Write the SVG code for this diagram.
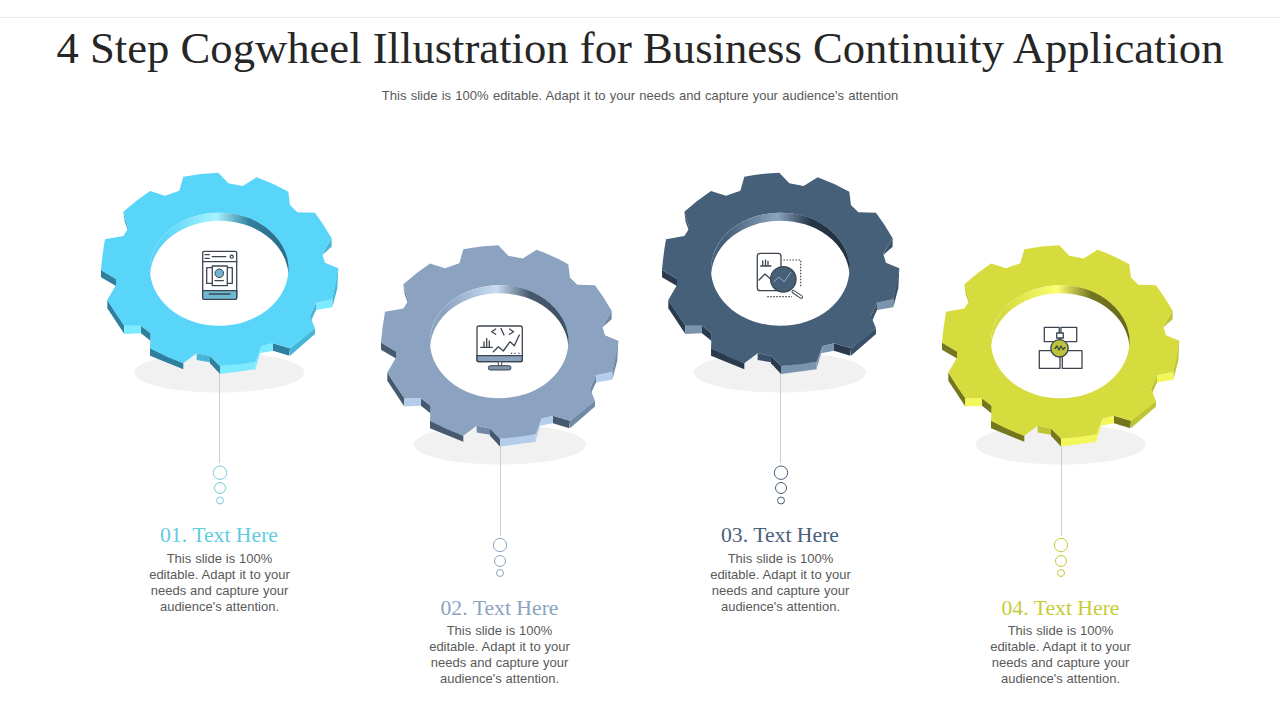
<svg xmlns="http://www.w3.org/2000/svg" width="1280" height="720" viewBox="0 0 1280 720">
<style>
.title{font:45px "Liberation Serif",serif;fill:#262626;text-anchor:middle}
.sub{font:13px "Liberation Sans",Arial,sans-serif;fill:#595959;text-anchor:middle;word-spacing:.67px}
.head{font:20px "Liberation Serif",serif;text-anchor:middle}
.body{font:13px "Liberation Sans",Arial,sans-serif;fill:#595959;text-anchor:middle;word-spacing:.3px}
.top{fill:var(--top)}.dk{fill:var(--dk)}.lt{fill:var(--lt)}.md{fill:var(--md)}
.shadow{fill:#f1f1f1}
.hole{fill:#fff}
.conn{stroke:#ccc;stroke-width:1;fill:none}
.ring{fill:#fff;stroke-width:1}
.i{fill:none;stroke:#3d4650;stroke-width:1.3;stroke-linecap:round;stroke-linejoin:round}
.iw{fill:#fff;stroke:#3d4650;stroke-width:1.3;stroke-linejoin:round}
.g1{--top:#5ad5fa;--dk:#2f7f9e;--lt:#7ceaff;--md:#48b4d6}
.g2{--top:#8ba3c1;--dk:#46596f;--lt:#b4cdea;--md:#7288a5}
.g3{--top:#47607a;--dk:#2a3a4c;--lt:#7a93ae;--md:#3a5068}
.g4{--top:#d6dc3e;--dk:#75771e;--lt:#f3f75a;--md:#bfc435}
</style>
<defs>
<g id="gear">
<polygon class="md" points="725,235 725,260 697,285 697,282"/>
<polygon class="md" points="100,155 104,185 115,215 115,205"/>
<polygon class="md" points="745,325 742,385 727,442 727,418"/>
<polygon class="md" points="675,505 675,522 600,587 600,565"/>
<polygon class="md" points="660,468 660,490 678,450 678,428"/>
<polygon class="md" points="320,580 320,600 360,607 360,588"/>
<polygon class="lt" points="515,558 510,582 497,625 497,605"/>
<polygon class="dk" points="33,330 33,352 78,378 78,357"/>
<polygon class="dk" points="52,420 52,445 103,522 103,497"/>
<polygon class="lt" points="103,497 103,522 153,520 153,497"/>
<polygon class="dk" points="153,497 153,520 182,543 182,520"/>
<polygon class="dk" points="180,565 180,587 280,628 280,610"/>
<polygon class="dk" points="360,588 360,610 390,642 390,618"/>
<polygon class="lt" points="390,618 390,642 497,628 497,605"/>
<polygon class="lt" points="515,558 510,580 549,572 549,550"/>
<polygon class="dk" points="549,550 549,572 598,587 600,565"/>
<polygon class="lt" points="678,428 678,450 727,442 727,418"/>
<path class="top" d="M280,50Q332,40 385,38L415,70L458,78L500,52Q550,70 595,95L600,135L622,157L675,158Q703,195 725,235L697,282L705,308L745,325Q740,372 727,418L678,428L660,468L675,505Q640,537 600,565L549,550L515,558L497,605Q445,615 390,618L360,588L320,580L280,610Q228,592 180,565L182,520L153,497L103,497Q75,460 52,420L78,375L78,357L33,330Q37,283 45,238L100,228L115,205L100,155Q137,122 180,93L225,107L268,92Z"/>
</g>
<linearGradient id="c1"><stop offset=".1" stop-color="#5ad5fa"/><stop offset=".48" stop-color="#a8f3ff"/><stop offset=".72" stop-color="#2f7f9e"/><stop offset="1" stop-color="#2a6a85"/></linearGradient>
<linearGradient id="c2"><stop offset=".1" stop-color="#8ba3c1"/><stop offset=".48" stop-color="#c9dcf2"/><stop offset=".72" stop-color="#46596f"/><stop offset="1" stop-color="#3d4f64"/></linearGradient>
<linearGradient id="c3"><stop offset=".1" stop-color="#47607a"/><stop offset=".48" stop-color="#8ba3bd"/><stop offset=".72" stop-color="#263648"/><stop offset="1" stop-color="#223040"/></linearGradient>
<linearGradient id="c4"><stop offset=".1" stop-color="#d6dc3e"/><stop offset=".48" stop-color="#fdff70"/><stop offset=".72" stop-color="#75771e"/><stop offset="1" stop-color="#66681a"/></linearGradient>
</defs>
<rect width="1280" height="720" fill="#fff"/>
<line x1="0" y1="17.5" x2="1280" y2="17.5" stroke="#ececec"/>
<text class="title" x="640" y="63" textLength="1167" lengthAdjust="spacingAndGlyphs">4 Step Cogwheel Illustration for Business Continuity Application</text>
<text class="sub" x="640" y="100">This slide is 100% editable. Adapt it to your needs and capture your audience's attention</text>

<g id="shadows">
<ellipse class="shadow" cx="219.5" cy="372.5" rx="85" ry="20"/>
<ellipse class="shadow" cx="500" cy="444.5" rx="86" ry="20"/>
<ellipse class="shadow" cx="780" cy="372.5" rx="86" ry="20"/>
<ellipse class="shadow" cx="1060.7" cy="444.5" rx="85" ry="20"/>
</g>
<g id="connectors">
<line class="conn" x1="219.5" y1="372" x2="219.5" y2="463"/>
<line class="conn" x1="500.5" y1="444" x2="500.5" y2="536"/>
<line class="conn" x1="780.5" y1="372" x2="780.5" y2="463"/>
<line class="conn" x1="1061.5" y1="444" x2="1061.5" y2="536"/>
</g>

<g id="node1" class="g1">
<use href="#gear" transform="translate(90,160) scale(.3333)"/>
<ellipse class="hole" cx="219.2" cy="269.2" rx="69.2" ry="56.5"/>
<path fill="url(#c1)" d="M150.2,273.2A69.2,56.5 0 0 1 219.2,212.7A69.2,56.5 0 0 1 288.4,273.2A69.2,56.5 0 0 0 219.2,220.7A69.2,56.5 0 0 0 150.2,273.2Z"/>
<g>
<rect class="iw" x="202.7" y="251.3" width="34" height="48" rx="1.5"/>
<path d="M202.7,290.7H236.7V298A1.3,1.3 0 0 1 235.4,299.3H204A1.3,1.3 0 0 1 202.7,298Z" fill="#6fb9d3" stroke="#3d4650" stroke-width="1.3"/>
<path class="i" d="M202.7,261.7H236.7M205,254.7H209.3M205,258.3H209.3M212.3,256.7H225.7M209.3,294H230"/>
<circle class="i" cx="231.7" cy="256.7" r="1.5"/>
<rect class="iw" x="206.7" y="267.7" width="25.6" height="15.6"/>
<rect class="iw" x="212.3" y="266" width="15" height="19.7"/>
<circle cx="219.3" cy="273.3" r="4.3" fill="#6fb3cf" stroke="#3d4650"/>
<path class="i" d="M215,280.7H223.3"/>
</g>
<circle class="ring" cx="220" cy="472.7" r="6.7" stroke="#7cc8dc"/>
<circle class="ring" cx="220" cy="488" r="5.5" stroke="#7cc8dc"/>
<circle class="ring" cx="220" cy="500.5" r="3.5" stroke="#7cc8dc"/>
<text class="head" x="219" y="541.5" fill="#62cbe0" textLength="118" lengthAdjust="spacingAndGlyphs">01. Text Here</text>
<text class="body"><tspan x="219.5" y="563">This slide is 100%</tspan><tspan x="219.5" y="579">editable. Adapt it to your</tspan><tspan x="219.5" y="595">needs and capture your</tspan><tspan x="219.5" y="611">audience's attention.</tspan></text>
</g>

<g id="node2" class="g2">
<use href="#gear" transform="translate(370,232.5) scale(.3333)"/>
<ellipse class="hole" cx="499.2" cy="341.7" rx="69.2" ry="56.5"/>
<path fill="url(#c2)" d="M430.2,345.7A69.2,56.5 0 0 1 499.2,285.2A69.2,56.5 0 0 1 568.4,345.7A69.2,56.5 0 0 0 499.2,293.2A69.2,56.5 0 0 0 430.2,345.7Z"/>
<g>
<rect class="iw" x="477" y="326" width="45.3" height="35.7" rx="2"/>
<path d="M477,355.7H522.3V359.7A2,2 0 0 1 520.3,361.7H479A2,2 0 0 1 477,359.7Z" fill="#8ba3c1" stroke="#3d4650" stroke-width="1.3"/>
<rect x="498.3" y="361.7" width="3.4" height="4" fill="#fff" stroke="#3d4650"/>
<rect x="488.3" y="365.7" width="22.7" height="4.3" rx="2" fill="#8093ab" stroke="#3d4650"/>
<path class="i" d="M495.7,329L491.7,331.7L495.7,334.3M501,328.5L504,335M509.5,329L513.5,331.7L509.5,334.3M480.7,347.3H492.3M484,347V342M486.7,347V338.5M489.3,347V341M493.3,351.7L498.3,346.7L503.3,351L510,341.7L514.3,345.7L519.3,335"/>
<path d="M511,353.3h1.2M514.3,353.3h1.2M518.3,353.3h1.2" stroke="#3d4650" stroke-width="1.2"/>
</g>
<circle class="ring" cx="500" cy="545" r="6.7" stroke="#8ba3c1"/>
<circle class="ring" cx="500" cy="561" r="5.5" stroke="#8ba3c1"/>
<circle class="ring" cx="500" cy="573" r="3.5" stroke="#8ba3c1"/>
<text class="head" x="499.5" y="614.5" fill="#8ba3c1" textLength="118" lengthAdjust="spacingAndGlyphs">02. Text Here</text>
<text class="body"><tspan x="499.5" y="635">This slide is 100%</tspan><tspan x="499.5" y="651">editable. Adapt it to your</tspan><tspan x="499.5" y="667">needs and capture your</tspan><tspan x="499.5" y="683">audience's attention.</tspan></text>
</g>

<g id="node3" class="g3">
<use href="#gear" transform="translate(651,160) scale(.3333)"/>
<ellipse class="hole" cx="780.2" cy="269.2" rx="69.2" ry="56.5"/>
<path fill="url(#c3)" d="M711.2,273.2A69.2,56.5 0 0 1 780.2,212.7A69.2,56.5 0 0 1 849.4,273.2A69.2,56.5 0 0 0 780.2,220.7A69.2,56.5 0 0 0 711.2,273.2Z"/>
<g>
<rect class="iw" x="757.3" y="253.3" width="23.7" height="37.4" rx="3"/>
<path class="i" d="M760.7,266H771M762.7,265.5V261M765.5,265.5V260M768,265.5V261.5M759,280L765,274L771.7,280"/>
<path d="M783.5,260H800.7V287M767.3,296.7H792" fill="none" stroke="#3d4650" stroke-width="1.2" stroke-dasharray="1.5 1.5"/>
<path d="M793.3,291.7L801.2,297" stroke="#3d4650" stroke-width="3.6" stroke-linecap="round"/>
<path d="M793.3,291.7L801.2,297" stroke="#fff" stroke-width="1.6" stroke-linecap="round"/>
<circle cx="783.3" cy="279.3" r="12.7" fill="#47607a" stroke="#3d4650" stroke-width="1.3"/>
<path d="M773.5,282L779,277L784,282L791,272" fill="none" stroke="#a9bdd4" stroke-width=".8"/>
</g>
<circle class="ring" cx="781" cy="472.7" r="6.7" stroke="#47607a"/>
<circle class="ring" cx="781" cy="488" r="5.5" stroke="#47607a"/>
<circle class="ring" cx="781" cy="500.5" r="3.5" stroke="#47607a"/>
<text class="head" x="780" y="541.5" fill="#47607a" textLength="118" lengthAdjust="spacingAndGlyphs">03. Text Here</text>
<text class="body"><tspan x="780.5" y="563">This slide is 100%</tspan><tspan x="780.5" y="579">editable. Adapt it to your</tspan><tspan x="780.5" y="595">needs and capture your</tspan><tspan x="780.5" y="611">audience's attention.</tspan></text>
</g>

<g id="node4" class="g4">
<use href="#gear" transform="translate(931,232.5) scale(.3333)"/>
<ellipse class="hole" cx="1060.2" cy="341.7" rx="69.2" ry="56.5"/>
<path fill="url(#c4)" d="M991.2,345.7A69.2,56.5 0 0 1 1060.2,285.2A69.2,56.5 0 0 1 1129.4,345.7A69.2,56.5 0 0 0 1060.2,293.2A69.2,56.5 0 0 0 991.2,345.7Z"/>
<g>
<rect class="iw" x="1044.3" y="327.3" width="15" height="14.4"/>
<rect class="iw" x="1061" y="327.3" width="15.7" height="14.4"/>
<rect class="iw" x="1039.3" y="350.7" width="20.7" height="17.6"/>
<rect class="iw" x="1062.3" y="350.7" width="19.7" height="17.6"/>
<rect class="iw" x="1056.7" y="333" width="6.6" height="5"/>
<circle cx="1059.5" cy="348.3" r="8.7" fill="#bcc33a" stroke="#3d4650" stroke-width="1.3"/>
<path class="i" d="M1055,348.5L1057,346L1059,350L1061,346L1063,349.5L1065,347.5"/>
</g>
<circle class="ring" cx="1061" cy="545" r="6.7" stroke="#c6cc38"/>
<circle class="ring" cx="1061" cy="561" r="5.5" stroke="#c6cc38"/>
<circle class="ring" cx="1061" cy="573" r="3.5" stroke="#c6cc38"/>
<text class="head" x="1060.5" y="614.5" fill="#c6cc38" textLength="118" lengthAdjust="spacingAndGlyphs">04. Text Here</text>
<text class="body"><tspan x="1060.5" y="635">This slide is 100%</tspan><tspan x="1060.5" y="651">editable. Adapt it to your</tspan><tspan x="1060.5" y="667">needs and capture your</tspan><tspan x="1060.5" y="683">audience's attention.</tspan></text>
</g>
</svg>
